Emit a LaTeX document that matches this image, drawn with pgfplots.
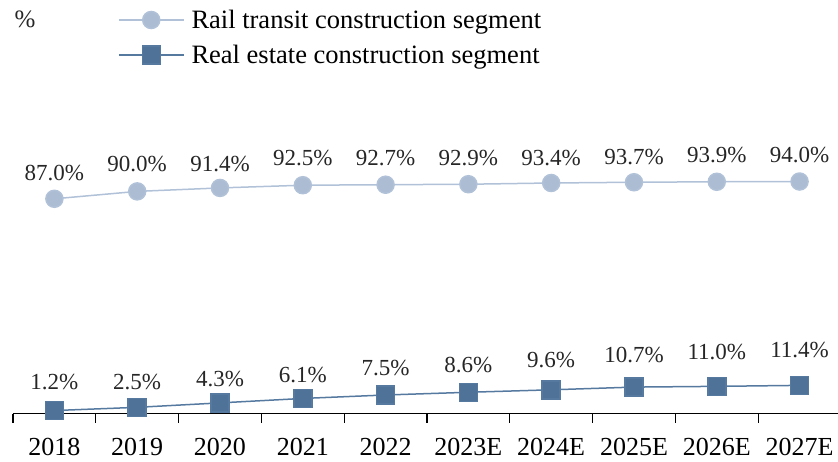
\documentclass[border=0pt]{standalone}
\usepackage{fontspec}
\setmainfont{Liberation Serif}
\usepackage{pgfplots}
\pgfplotsset{compat=1.18}
\usepackage{pgfplotstable}
\definecolor{railc}{HTML}{ABBCD3}
\definecolor{raill}{HTML}{B0C1D8}
\definecolor{realc}{HTML}{4F7398}
\definecolor{reall}{HTML}{55799F}

\pgfplotstableread{
x y lab off
0 87.0 87.0 26
1 90.0 90.0 27
2 91.4 91.4 24
3 92.5 92.5 27
4 92.7 92.7 27
5 92.9 92.9 26
6 93.4 93.4 25
7 93.7 93.7 25
8 93.9 93.9 27
9 94.0 94.0 27
}\rail

\pgfplotstableread{
x y lab off
0 1.2 1.2 28.5
1 2.5 2.5 25.5
2 4.3 4.3 24
3 6.1 6.1 23.5
4 7.5 7.5 27
5 8.6 8.6 27.5
6 9.6 9.6 30
7 10.7 10.7 32
8 11.0 11.0 34.5
9 11.4 11.4 35.5
}\realest

\begin{document}
\begin{tikzpicture}
\begin{axis}[
  scale only axis, width=825pt, height=413.5pt,
  xmin=-0.5, xmax=9.464, ymin=0, ymax=167.55,
  axis x line*=bottom, axis y line=none,
  x axis line style={-, line width=1.3pt, black},
  xtick={0,...,9},
  xticklabels={2018,2019,2020,2021,2022,2023E,2024E,2025E,2026E,2027E},
  major tick length=0pt,
  minor xtick={-0.5,0.5,...,8.5},
  minor tick length=9pt,
  tick align=outside,
  minor tick style={line width=1.3pt, black},
  xticklabel style={font=\fontsize{26}{30}\selectfont, inner sep=0pt, anchor=north, yshift=-24.5pt},
  clip=false,
  legend image code/.code={\draw[mark repeat=2,mark phase=2,#1] plot coordinates {(0pt,0pt) (32.5pt,0pt) (65pt,0pt)};},
  legend style={at={(0.12727,0.98186)}, anchor=north west, draw=none, fill=none,
    inner xsep=0pt, inner ysep=0pt, outer sep=0pt, row sep=10pt, column sep=7pt,
    nodes={inner sep=0pt, text height=21pt, text depth=4pt},
    font=\fontsize{26.5}{31}\selectfont},
  legend cell align=left,
  every node near coord/.append style={font=\fontsize{23}{27}\selectfont, anchor=center, inner sep=0pt, yshift=\off pt, text=black!85},
]
\addplot[color=raill, line width=1.5pt, mark=*, mark size=8.5pt,
  mark options={fill=railc, draw=none},
  point meta=explicit symbolic,
  visualization depends on={\thisrow{off}\as\off},
  nodes near coords={\pgfplotspointmeta\%}]
  table[x=x, y=y, meta=lab]{\rail};
\addlegendentry{Rail transit construction segment}
\addplot[color=reall, line width=1.5pt, mark=square*, mark size=9pt,
  mark options={fill=realc, draw=none},
  point meta=explicit symbolic,
  visualization depends on={\thisrow{off}\as\off},
  nodes near coords={\pgfplotspointmeta\%}]
  table[x=x, y=y, meta=lab]{\realest};
\addlegendentry{Real estate construction segment}
\node[font=\fontsize{25}{29}\selectfont, inner sep=0pt, text=black!85] at (rel axis cs:0.0145,0.952) {\%};
\end{axis}
\pgfresetboundingbox
\path[use as bounding box] (-13pt,-47.5pt) rectangle (825pt,413.5pt);
\end{tikzpicture}
\end{document}
